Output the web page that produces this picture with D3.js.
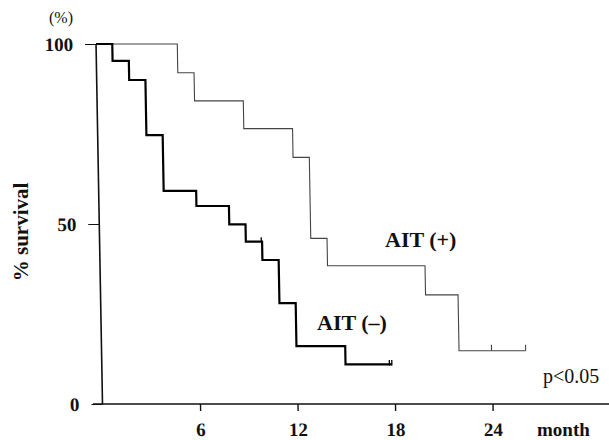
<!DOCTYPE html>
<html>
<head>
<meta charset="utf-8">
<script src="https://cdn.jsdelivr.net/npm/d3@7"></script>
<style>
  html, body { margin: 0; padding: 0; background: #fff; }
  svg { display: block; }
</style>
</head>
<body>
<svg id="chart" width="609" height="440"></svg>
<script>
// ---- data (months, % survival) ----
const aitPlusTimes   = [0, 5, 6, 9, 12, 13, 14, 20, 22];
const aitPlusSurv    = [100, 92, 84.2, 76.5, 68.5, 46, 38.4, 30.3, 14.8];
const aitPlusEnd     = 26.1;
const aitPlusCensor  = [24, 26.1];

const aitMinusTimes  = [0, 1, 2, 3, 4, 6, 8, 9, 10, 11, 12, 15];
const aitMinusSurv   = [100, 95.3, 90, 74.7, 59.2, 55, 49.9, 45.1, 40, 28, 16.1, 11];
const aitMinusEnd    = 17.85;
const aitMinusCensor = [9.95, 17.7, 17.85];

const xTicks = [6, 12, 18, 24];
const yTicks = [0, 50, 100];

const SERIF = '"Liberation Serif"';

// ---- layout ----
const svg = d3.select("#chart");
const x = d3.scaleLinear().domain([0, 24]).range([102.5, 492.5]);
const y = d3.scaleLinear().domain([0, 100]).range([404, 44]);

// slight scan skew of the original (vertical lines lean left going up)
const g = svg.append("g")
  .attr("transform", "translate(0,404) skewX(1.03) translate(0,-404)");

// x axis line
g.append("line")
  .attr("x1", 93).attr("x2", 609)
  .attr("y1", y(0)).attr("y2", y(0))
  .attr("stroke", "#111").attr("stroke-width", 1.6);

const xAxis = g.append("g")
  .attr("transform", `translate(0,${y(0)})`)
  .call(d3.axisBottom(x).tickValues(xTicks).tickSize(7).tickPadding(12).tickFormat(d3.format("d")));
xAxis.select(".domain").remove();
xAxis.selectAll(".tick line").attr("stroke", "#111").attr("stroke-width", 1.4);
xAxis.selectAll(".tick text")
  .style("font-family", SERIF).style("font-size", "19px").style("font-weight", "bold").attr("fill", "#111");

// y axis
const yAxis = g.append("g")
  .attr("transform", `translate(${x(0)},0)`)
  .call(d3.axisLeft(y).tickValues(yTicks).tickSize(11).tickPadding(12).tickFormat(d3.format("d")));
yAxis.select(".domain").attr("stroke", "#111").attr("stroke-width", 1.6).attr("d", `M0,${y(100)}V${y(0)}`);
yAxis.selectAll(".tick line").attr("stroke", "#111").attr("stroke-width", 1.2);
yAxis.selectAll(".tick text")
  .style("font-family", SERIF).style("font-size", "19px").style("font-weight", "bold").attr("fill", "#111");

// curves
const stepLine = d3.line().x(d => x(d[0])).y(d => y(d[1])).curve(d3.curveStepAfter);

function series(times, surv, end) {
  const pts = times.map((t, i) => [t, surv[i]]);
  pts.push([end, surv[surv.length - 1]]);
  return pts;
}
function survAt(times, surv, t) {
  let s = surv[0];
  times.forEach((tt, i) => { if (tt <= t) s = surv[i]; });
  return s;
}

g.append("path")
  .datum(series(aitPlusTimes, aitPlusSurv, aitPlusEnd))
  .attr("d", stepLine).attr("fill", "none")
  .attr("stroke", "#444").attr("stroke-width", 1.1);

g.selectAll(".cplus").data(aitPlusCensor).enter().append("line")
  .attr("x1", d => x(d)).attr("x2", d => x(d))
  .attr("y1", d => y(survAt(aitPlusTimes, aitPlusSurv, d))).attr("y2", d => y(survAt(aitPlusTimes, aitPlusSurv, d)) - 6)
  .attr("stroke", "#444").attr("stroke-width", 1.1);

g.append("path")
  .datum(series(aitMinusTimes, aitMinusSurv, aitMinusEnd))
  .attr("d", stepLine).attr("fill", "none")
  .attr("stroke", "#000").attr("stroke-width", 2.2);

g.selectAll(".cminus").data(aitMinusCensor).enter().append("line")
  .attr("x1", d => x(d)).attr("x2", d => x(d))
  .attr("y1", d => y(survAt(aitMinusTimes, aitMinusSurv, d)) + 1).attr("y2", d => y(survAt(aitMinusTimes, aitMinusSurv, d)) - 4.5)
  .attr("stroke", "#000").attr("stroke-width", 1.3);

// labels
function label(txt, xx, yy, size, bold, anchor) {
  return svg.append("text").attr("x", xx).attr("y", yy)
    .style("font-family", SERIF).style("font-size", size + "px")
    .style("font-weight", bold ? "bold" : "normal")
    .attr("text-anchor", anchor || "start").attr("fill", "#111").text(txt);
}

label("(%)", 61, 23, 16, false, "middle");

svg.append("text")
  .attr("transform", "translate(28,232) rotate(-90)")
  .attr("text-anchor", "middle")
  .style("font-family", SERIF).style("font-size", "21px").style("font-weight", "bold").attr("fill", "#111")
  .text("% survival");

label("AIT (+)", 385, 247, 22, true);
label("AIT (–)", 317, 330, 22, true);
label("p<0.05", 543, 383, 20, false);
label("month", 537, 436, 19, true);
</script>
</body>
</html>
